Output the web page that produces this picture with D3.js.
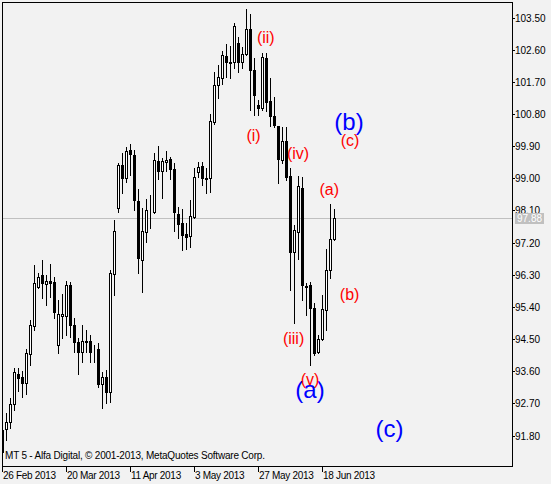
<html>
<head>
<meta charset="utf-8">
<title>MT5 chart</title>
<style>
  body {margin: 0; background: #f2f2f2;}
  svg {display: block;}
  text {font-family: "Liberation Sans", Arial, sans-serif;}
</style>
</head>
<body>
<svg></svg>
<script src="https://d3js.org/d3.v7.min.js"></script>
<script>
// daily candles, 26 Feb 2013 .. 21 Jun 2013
let opens  = [91.95,91.97,92.19,92.67,93.52,93.43,93.26,94.07,94.86,95.96,96.28,96.05,96.12,96.10,94.33,95.14,95.15,96.00,94.89,94.41,
              94.13,94.42,94.44,94.13,94.21,93.23,93.44,93.03,96.31,98.18,99.37,99.02,99.79,99.65,98.36,96.71,97.50,98.10,98.06,99.48,
              99.21,99.45,99.54,99.26,97.99,97.74,97.44,97.39,97.92,99.17,99.34,98.99,99.00,100.58,101.61,101.81,102.42,102.24,102.25,102.79,
              102.26,102.48,103.17,102.03,101.05,100.96,102.36,101.16,100.74,100.45,99.51,100.04,99.06,96.94,97.50,98.74,95.98,96.00,95.36,94.15,
              94.49,95.31,96.43,97.29];
let highs  = [92.01,92.43,92.84,93.69,93.70,93.61,94.21,95.03,96.57,96.34,96.71,96.29,96.60,96.24,95.59,95.75,96.12,96.10,95.08,94.52,
              94.89,94.75,94.61,94.33,94.38,93.57,93.62,96.43,97.83,99.42,99.70,99.88,99.95,99.79,98.70,98.18,98.41,98.53,99.70,99.91,
              99.58,99.76,99.60,99.42,98.20,98.14,97.74,98.39,99.30,99.46,99.45,99.28,100.79,101.98,102.17,102.56,102.75,102.71,103.34,102.95,
              102.67,103.73,103.61,102.37,101.19,102.52,102.52,101.82,101.28,100.46,100.44,100.44,99.28,97.69,99.06,99.04,96.06,96.10,95.50,94.61,
              95.73,97.02,98.27,98.13];
let lows   = [91.25,91.67,92.00,92.51,93.05,92.89,92.95,93.77,94.75,95.92,95.64,95.44,95.67,95.08,94.10,94.52,94.61,94.57,94.15,93.51,
              93.85,94.15,93.87,93.87,93.16,92.56,92.72,92.74,95.73,98.06,98.58,98.90,99.09,98.11,96.34,95.81,97.21,97.62,98.04,98.98,
              98.46,99.20,98.98,97.53,97.34,96.99,97.01,97.08,97.88,99.04,98.81,98.58,98.62,100.52,101.25,101.63,101.84,101.81,102.08,101.97,
              102.08,102.45,100.91,100.77,100.77,100.91,100.87,100.45,100.44,98.86,99.42,98.95,95.87,94.94,96.74,95.58,95.17,93.77,94.05,94.12,
              94.47,94.75,96.20,97.27];
let closes = [91.34,92.17,92.67,93.57,93.42,93.28,94.10,94.89,96.06,96.25,96.06,96.12,96.08,95.26,95.19,95.19,96.01,94.89,94.43,94.15,
              94.44,94.44,94.13,94.14,93.23,93.45,93.03,96.36,97.52,99.37,99.02,99.76,99.67,98.39,96.76,97.52,98.11,98.11,99.51,99.21,
              99.48,99.51,99.25,98.06,97.73,97.41,97.36,97.94,99.03,99.31,99.00,99.00,100.60,101.61,101.84,102.45,102.25,102.25,103.26,102.26,
              102.48,103.17,102.03,101.33,100.96,102.39,101.14,100.73,100.49,99.53,100.04,99.04,96.94,97.55,98.78,96.00,95.97,95.36,94.12,94.49,
              95.33,96.43,97.29,97.88];

let priceTicks = [103.50,102.60,101.70,100.80,99.90,99.00,98.10,97.20,96.30,95.40,94.50,93.60,92.70,91.80];
let dateTickIdx = [0,16,32,48,64,80];
let dateTicks = ["26 Feb 2013","20 Mar 2013","11 Apr 2013","3 May 2013","27 May 2013","18 Jun 2013"];
let lastPrice = 97.88;

// wave marks: text, bar position, price at baseline
let redText  = ["(ii)","(i)","(iv)","(iii)","(v)","(a)","(b)","(c)"];
let redBar   = [65.95,62.9,74,72.9,77,81.8,86.9,87];
let redPrice = [102.79,100.03,99.54,94.36,93.21,98.53,95.59,99.89];
let blueText  = ["(a)","(b)","(c)"];
let blueBar   = [77,86.75,96.9];
let bluePrice = [92.84,100.36,91.76];

const W = 551, H = 484;
const frame = {left: 2, top: 2, right: 512, bottom: 466};

let svg = d3.select("svg").attr("width", W).attr("height", H);
svg.append("rect").attr("width", W).attr("height", H).attr("fill", "#f2f2f2");

let x = d3.scaleLinear().domain([0, 83]).range([2, 334]);
let y = d3.scaleLinear().domain([91.80, 103.50]).range([435.5, 17.5]);
let px = i => Math.round(x(i));
let py = v => Math.round(y(v));

svg.append("clipPath").attr("id", "plot")
  .append("rect").attr("x", frame.left + 1).attr("y", frame.top + 1)
  .attr("width", frame.right - frame.left - 1).attr("height", frame.bottom - frame.top - 1);

// last price line
svg.append("line")
  .attr("x1", frame.left).attr("x2", frame.right)
  .attr("y1", py(lastPrice) + 0.5).attr("y2", py(lastPrice) + 0.5)
  .attr("stroke", "#c0c0c0");

let candles = d3.range(opens.length).map(i => ({i: i, o: opens[i], h: highs[i], l: lows[i], c: closes[i]}));

let g = svg.append("g").attr("clip-path", "url(#plot)");
let bars = g.selectAll("g.c").data(candles).enter().append("g").attr("class", "c");
bars.append("line")
  .attr("x1", d => px(d.i) + 0.5).attr("x2", d => px(d.i) + 0.5)
  .attr("y1", d => py(d.h)).attr("y2", d => py(d.l) + 1)
  .attr("stroke", "#000");
bars.append("rect")
  .attr("x", d => px(d.i) - 0.5)
  .attr("y", d => py(Math.max(d.o, d.c)) + 0.5)
  .attr("width", 2)
  .attr("height", d => py(Math.min(d.o, d.c)) - py(Math.max(d.o, d.c)))
  .attr("fill", d => d.c >= d.o ? "#fff" : "#000")
  .attr("stroke", "#000");

// frame
svg.append("rect")
  .attr("x", frame.left + 0.5).attr("y", frame.top + 0.5)
  .attr("width", frame.right - frame.left).attr("height", frame.bottom - frame.top)
  .attr("fill", "none").attr("stroke", "#000");

// price scale
priceTicks.forEach(v => {
  svg.append("line").attr("x1", frame.right).attr("x2", frame.right + 3)
    .attr("y1", py(v) + 0.5).attr("y2", py(v) + 0.5).attr("stroke", "#000");
  svg.append("text").attr("x", frame.right + 3).attr("y", py(v) + 4)
    .attr("font-size", "10px").attr("fill", "#000").text(v.toFixed(2));
});
svg.append("rect").attr("x", 515).attr("y", py(lastPrice) - 5)
  .attr("width", 29).attr("height", 11).attr("fill", "#c0c0c0");
svg.append("text").attr("x", 517).attr("y", py(lastPrice) + 4)
  .attr("font-size", "10px").attr("fill", "#fff").text(lastPrice.toFixed(2));

// time scale
dateTickIdx.forEach((k, j) => {
  svg.append("line").attr("x1", px(k) + 0.5).attr("x2", px(k) + 0.5)
    .attr("y1", frame.bottom).attr("y2", frame.bottom + 6).attr("stroke", "#000");
  svg.append("text").attr("x", px(k) + 1).attr("y", 479)
    .attr("font-size", "10px").attr("letter-spacing", "-0.3px")
    .attr("fill", "#000").text(dateTicks[j]);
});

svg.append("text").attr("x", 5).attr("y", 459)
  .attr("font-size", "10px").attr("fill", "#000")
  .attr("textLength", 260).attr("lengthAdjust", "spacing")
  .text("MT 5 - Alfa Digital, \u00a9 2001-2013, MetaQuotes Software Corp.");

// wave labels
blueText.forEach((t, j) => {
  svg.append("text").attr("x", x(blueBar[j])).attr("y", y(bluePrice[j]))
    .attr("text-anchor", "middle").attr("font-size", "24px").attr("fill", "#0000ff").text(t);
});
redText.forEach((t, j) => {
  svg.append("text").attr("x", x(redBar[j])).attr("y", y(redPrice[j]))
    .attr("text-anchor", "middle").attr("font-size", "16px").attr("fill", "#ff0000").text(t);
});
</script>
</body>
</html>
